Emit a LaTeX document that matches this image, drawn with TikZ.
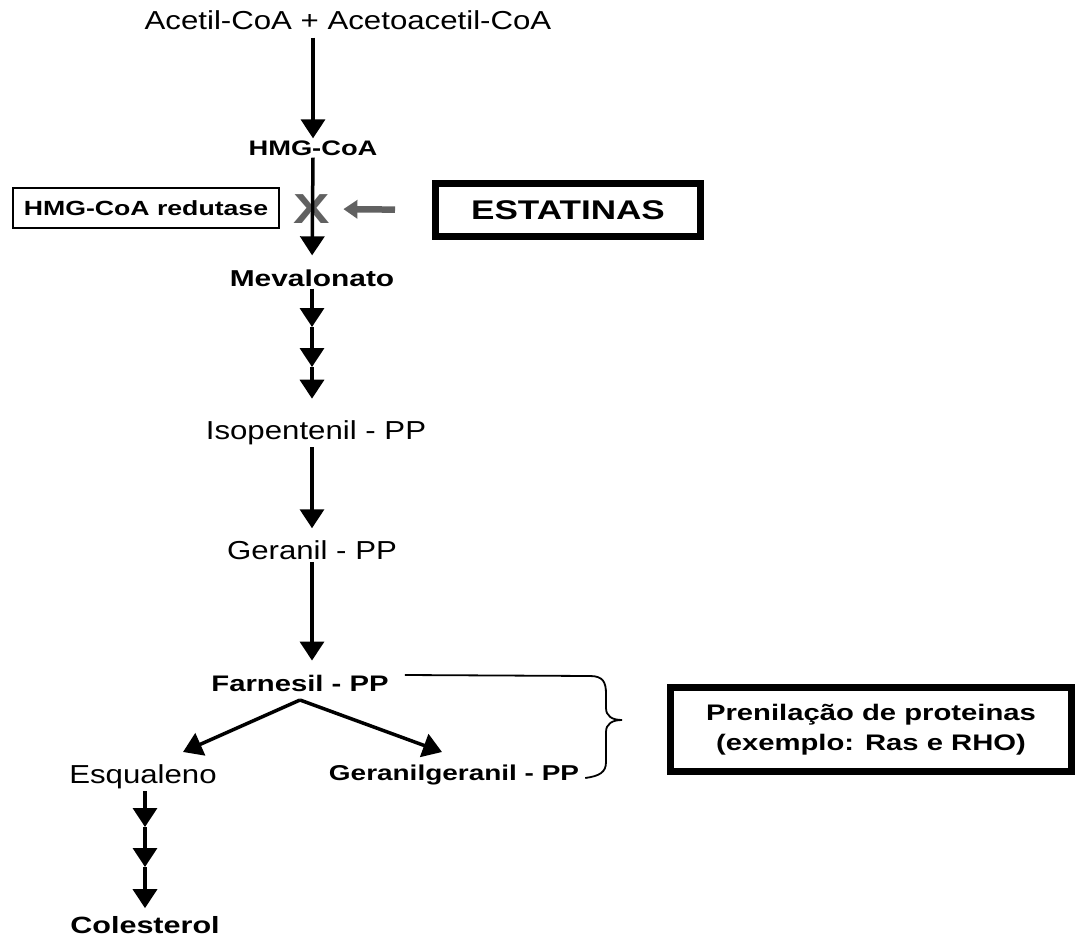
\documentclass[tikz,border=0pt]{standalone}
\usepackage{fontspec}
\setmainfont{Liberation Sans}[FakeStretch=1.2, BoldFeatures={FakeStretch=1.3}]
\usetikzlibrary{positioning,arrows.meta,calc}

\begin{document}
\begin{tikzpicture}[
  x=1pt, y=-1pt,
  chem/.style={font=\fontsize{26}{30}\selectfont, inner sep=2pt},
  chembold/.style={font=\fontsize{23}{27}\selectfont\bfseries, inner sep=2pt},
  arr/.style={-{Triangle[width=24pt,length=19pt]}, line width=3.5pt},
  grayarr/.style={-{Triangle[width=18pt,length=14pt]}, line width=6.5pt, black!62},
  enzbox/.style={draw, line width=2pt, inner sep=0pt, font=\fontsize{20.5}{24}\selectfont\bfseries},
  fatbox/.style={draw, line width=7pt, inner sep=0pt, align=center}
]
\useasboundingbox (0,0) rectangle (1081,941);

% main pathway
\node[chem] (acetil) at (348,20) {Acetil-CoA + Acetoacetil-CoA};
\node[chembold, font=\fontsize{21}{25}\selectfont\bfseries] (hmg) at (313,148) {HMG-CoA};
\node[enzbox, minimum width=266pt, minimum height=40pt] (redutase) at (146,208) {HMG-CoA redutase};
\node[font=\fontsize{42}{46}\selectfont\bfseries, text=black!62, inner sep=1pt] (block) at (312,209) {X};
\node[fatbox, minimum width=265pt, minimum height=53pt, font=\fontsize{27}{31}\selectfont\bfseries] (statins) at (568,210) {ESTATINAS};
\node[chembold] (meva) at (312,278) {Mevalonato};
\node[chem] (isop) at (316,433) {Isopentenil - PP};
\node[chem] (geranil) at (312,550) {Geranil - PP};
\node[chembold, font=\fontsize{22.5}{27}\selectfont\bfseries] (farnesil) at (300,683) {Farnesil - PP};
\node[chem] (esq) at (143,777) {Esqualeno};
\node[chembold, font=\fontsize{21.5}{26}\selectfont\bfseries] (gg) at (454,775) {Geranilgeranil - PP};
\node[chembold, font=\fontsize{23.5}{28}\selectfont\bfseries] (col) at (145,925) {Colesterol};
\node[fatbox, minimum width=401pt, minimum height=84pt, font=\fontsize{22.5}{30}\selectfont\bfseries] (prenil) at (871,729.5) {Prenilação de proteinas\\(exemplo: Ras e RHO)};

% helper points
\coordinate (m1) at (312,327);
\coordinate (m2) at (312,367);
\coordinate (fork) at (300,700);
\coordinate (esqtip) at (183,752);
\coordinate (ggtip) at (442,752);
\coordinate (e1) at (145,827);
\coordinate (e2) at (145,867);

% arrows
\draw[arr, shorten <=6pt] (hmg |- acetil.south) -- (hmg.north);
\draw[arr, shorten >=12pt] (hmg.south) -- (meva.north);
\draw[grayarr, shorten <=37pt, shorten >=12pt] (statins.west) -- (block.east);
\draw[arr] (meva.south) -- (m1);
\draw[arr] (m1) -- (m2);
\draw[arr, shorten >=20pt] (m2) -- (m2 |- isop.north);
\draw[arr, shorten >=10pt] (m2 |- isop.south) -- (m2 |- geranil.north);
\draw[arr, shorten >=12pt] (geranil.south) -- (geranil.south |- farnesil.north);
\draw[arr] (fork) -- (esqtip);
\draw[arr] (fork) -- (ggtip);
\draw[arr] (esq.south -| e1) -- (e1);
\draw[arr] (e1) -- (e2);
\draw[arr, shorten >=6pt] (e2) -- (e2 |- col.north);

% brace towards prenylation
\draw[line width=1.8pt] ($(farnesil.east)+(14,-8)$) -- (590,676)
  .. controls (603,676) and (606,682) .. (606,694) -- (606,708)
  .. controls (606,716) and (612,720) .. (622,720)
  .. controls (612,720) and (606,724) .. (606,732) -- (606,762)
  .. controls (606,772) and (600,776) .. ($(gg.east)+(4,3)$);

\end{tikzpicture}
\end{document}
